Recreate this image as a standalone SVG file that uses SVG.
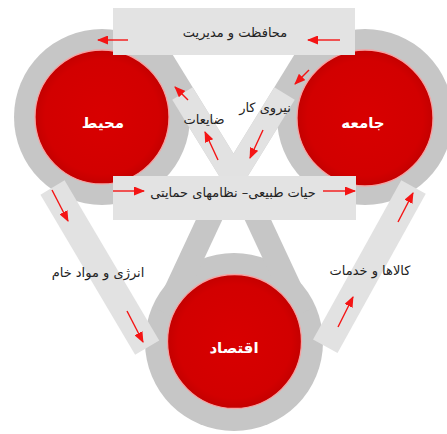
<svg xmlns="http://www.w3.org/2000/svg" width="447" height="434" viewBox="0 0 447 434">
  <defs>
    <radialGradient id="redfill" cx="50%" cy="50%" r="50%">
      <stop offset="0" stop-color="#d80000"/>
      <stop offset="0.85" stop-color="#d20000"/>
      <stop offset="1" stop-color="#c40000"/>
    </radialGradient>
    <marker id="ah" markerUnits="userSpaceOnUse" markerWidth="11" markerHeight="9" refX="10" refY="4.5" orient="auto">
      <path d="M0,0 L11,4.5 L0,9 z" fill="#f41414"/>
    </marker>
  </defs>
  <style>
    .ring { fill: #c6c6c6; }
    .band { fill: #e2e2e2; }
    .box { fill: #e3e3e3; }
    .core { fill: url(#redfill); stroke: #f5a3a3; stroke-width: 1.3; }
    .lbl { font-family: "DejaVu Sans", "Noto Sans", sans-serif; font-size: 13px; fill: #222; text-anchor: middle; }
    .nlbl { font-family: "DejaVu Sans", "Noto Sans", sans-serif; font-size: 15px; font-weight: bold; fill: #ffffff; text-anchor: middle; }
    .arr { stroke: #f41414; stroke-width: 1.4; fill: none; marker-end: url(#ah); }
  </style>
  <rect width="447" height="434" fill="#ffffff"/>

  <!-- gray belt: rings around the three nodes and the dark parts of the crossing bands -->
  <g id="belt">
    <circle class="ring" cx="102" cy="117" r="88"/>
    <circle class="ring" cx="365" cy="117" r="88"/>
    <circle class="ring" cx="234" cy="342" r="89"/>
    <rect class="ring" x="-12" y="-150" width="24" height="170" transform="translate(233.5,176.5) rotate(-31.6)"/>
    <rect class="ring" x="-12" y="-150" width="24" height="170" transform="translate(233.5,176.5) rotate(31.6)"/>
    <rect class="ring" x="-12" y="0" width="24" height="136" transform="translate(244,190) rotate(-25)"/>
    <rect class="ring" x="-12" y="0" width="24" height="136" transform="translate(223,190) rotate(25)"/>
  </g>

  <!-- connectors: light flow bands with their labels -->
  <g id="connectors">
    <rect class="band" x="-12" y="-97.4" width="24" height="117" transform="translate(233.5,176.5) rotate(-31.6)"/>
    <rect class="band" x="-12" y="-97.4" width="24" height="117" transform="translate(233.5,176.5) rotate(31.6)"/>
    <rect class="band" x="-14" y="0" width="28" height="186" transform="translate(52.5,187.5) rotate(-30.6)"/>
    <rect class="band" x="-14" y="0" width="28" height="182" transform="translate(413.5,187) rotate(29)"/>
    <text class="lbl" x="204" y="124">ضایعات</text>
    <text class="lbl" x="265" y="112">نیروی کار</text>
    <text class="lbl" x="98" y="277">انرژی و مواد خام</text>
    <text class="lbl" x="370" y="275">کالاها و خدمات</text>
  </g>

  <g id="node-mohit">
    <circle class="core" cx="102" cy="117" r="67"/>
    <text class="nlbl" x="103" y="128">محیط</text>
  </g>
  <g id="node-jameh">
    <circle class="core" cx="365" cy="118" r="68"/>
    <text class="nlbl" x="363" y="128">جامعه</text>
  </g>
  <g id="node-eqtesad">
    <circle class="core" cx="234.5" cy="341.5" r="67"/>
    <text class="nlbl" x="234" y="353">اقتصاد</text>
  </g>

  <g id="box-protection">
    <rect class="box" x="113" y="8" width="242" height="47"/>
    <text class="lbl" x="235" y="37" font-size="15">محافظت و مدیریت</text>
  </g>
  <g id="box-life-support">
    <rect class="box" x="113" y="176" width="243" height="44"/>
    <text class="lbl" x="233" y="197" font-size="12.5">حیات طبیعی– نظامهای حمایتی</text>
  </g>

  <g id="arrows">
    <line class="arr" x1="340" y1="40" x2="308" y2="40"/>
    <line class="arr" x1="128" y1="40" x2="98" y2="40"/>
    <line class="arr" x1="309" y1="70" x2="295" y2="84"/>
    <line class="arr" x1="263" y1="130" x2="250" y2="158"/>
    <line class="arr" x1="188" y1="100" x2="175" y2="87"/>
    <line class="arr" x1="218" y1="160" x2="205" y2="132"/>
    <line class="arr" x1="113" y1="191" x2="144" y2="191"/>
    <line class="arr" x1="323" y1="191" x2="355" y2="191"/>
    <line class="arr" x1="52" y1="190" x2="68" y2="221"/>
    <line class="arr" x1="127" y1="311" x2="143" y2="342"/>
    <line class="arr" x1="398" y1="222" x2="413" y2="193"/>
    <line class="arr" x1="338" y1="327" x2="353" y2="297"/>
  </g>
</svg>
